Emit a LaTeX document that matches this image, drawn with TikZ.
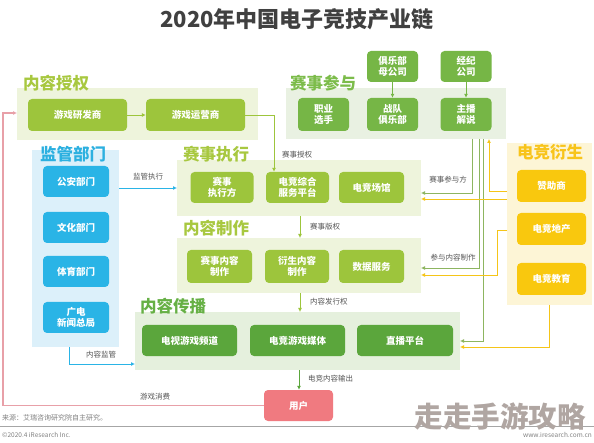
\documentclass[tikz,border=0pt]{standalone}
\usepackage{fontspec}
\setmainfont{Noto Sans CJK SC}
\usetikzlibrary{arrows.meta}
\definecolor{lime}{HTML}{9DC53C}
\definecolor{limepanel}{HTML}{EEF4DC}
\definecolor{limetitle}{HTML}{A8C840}
\definecolor{midgreen}{HTML}{76B646}
\definecolor{midpanel}{HTML}{E9F1E2}
\definecolor{midtitle}{HTML}{7CBC4A}
\definecolor{dkgreen}{HTML}{5BA63C}
\definecolor{dkpanel}{HTML}{E5F0DD}
\definecolor{dktitle}{HTML}{66B045}
\definecolor{bluebox}{HTML}{2AB4E6}
\definecolor{bluepanel}{HTML}{DCF0FA}
\definecolor{bluetitle}{HTML}{2CB0E0}
\definecolor{yelbox}{HTML}{F9C80E}
\definecolor{yelpanel}{HTML}{FDF5D6}
\definecolor{yeltitle}{HTML}{F8C41A}
\definecolor{userred}{HTML}{F07A80}
\definecolor{pinkline}{HTML}{E8A0A8}
\definecolor{olive}{HTML}{8DB560}
\definecolor{yline}{HTML}{F5C518}
\definecolor{titlegray}{HTML}{404040}
\definecolor{lblgray}{HTML}{555555}
\definecolor{wmcol}{HTML}{B0A6A2}
\begin{document}
\begin{tikzpicture}[x=1pt,y=-1pt,
  panel/.style={inner sep=0pt, outer sep=0pt},
  box/.style={rounded corners=4pt, text=white, align=center, inner sep=0pt,
    font=\bfseries\fontsize{9.5}{11.5}\selectfont},
  lbox/.style={box, fill=lime},
  mbox/.style={box, fill=midgreen},
  dbox/.style={box, fill=dkgreen},
  bbox/.style={box, fill=bluebox},
  ybox/.style={box, fill=yelbox},
  gtitle/.style={anchor=west, inner sep=0pt, font=\bfseries\fontsize{16.5}{18}\selectfont},
  lbl/.style={text=lblgray, inner sep=0pt, font=\fontsize{7.5}{9}\selectfont},
  conn/.style={line width=0.9pt, -{Latex[length=4pt,width=4pt]}},
]
\useasboundingbox[fill=white] (0,0) rectangle (594,443);

% title
\node[font=\bfseries\fontsize{22}{24}\selectfont, text=titlegray] (title) at (297,19) {2020年中国电子竞技产业链};

% panels
\node[panel, fill=limepanel, minimum width=241pt, minimum height=52pt] (pA) at (137.5,114) {};
\node[panel, fill=midpanel, minimum width=220pt, minimum height=51pt] (pC) at (396,113.5) {};
\node[panel, fill=limepanel, minimum width=244pt, minimum height=56pt] (pE) at (299,188) {};
\node[panel, fill=limepanel, minimum width=244pt, minimum height=55pt] (pM) at (299,265.5) {};
\node[panel, fill=dkpanel, minimum width=325pt, minimum height=58pt] (pS) at (297.5,341) {};
\node[panel, fill=bluepanel, minimum width=87pt, minimum height=197pt] (pJ) at (75.5,248.5) {};
\node[panel, fill=yelpanel, minimum width=85pt, minimum height=162pt] (pY) at (549.5,224) {};

% group titles
\node[gtitle, text=limetitle] (tA) at (23,83) {内容授权};
\node[gtitle, text=midtitle] (tC) at (290,83) {赛事参与};
\node[gtitle, text=limetitle] (tE) at (183,154) {赛事执行};
\node[gtitle, text=limetitle] (tM) at (183,228) {内容制作};
\node[gtitle, text=dktitle] (tS) at (140,306) {内容传播};
\node[gtitle, text=bluetitle] (tJ) at (40,154) {监管部门};
\node[gtitle, text=yeltitle] (tY) at (517,152) {电竞衍生};

% 内容授权
\node[lbox, minimum width=99pt, minimum height=32pt] (yf) at (77.5,115) {游戏研发商};
\node[lbox, minimum width=99pt, minimum height=32pt] (yy) at (195.5,115) {游戏运营商};

% 赛事参与
\node[mbox, minimum width=51pt, minimum height=33pt] (zy) at (323.5,114.5) {职业\\选手};
\node[mbox, minimum width=51pt, minimum height=33pt] (zd) at (392.5,114.5) {战队\\俱乐部};
\node[mbox, minimum width=51pt, minimum height=33pt] (zb) at (466,114.5) {主播\\解说};
\node[mbox, minimum width=51pt, minimum height=31pt] (mg) at (392.5,66.5) {俱乐部\\母公司};
\node[mbox, minimum width=51pt, minimum height=31pt] (jj) at (466,66.5) {经纪\\公司};

% 赛事执行
\node[lbox, minimum width=63pt, minimum height=31pt] (zxf) at (222,187.5) {赛事\\执行方};
\node[lbox, minimum width=63pt, minimum height=31pt] (zh) at (297.5,187.5) {电竞综合\\服务平台};
\node[lbox, minimum width=65pt, minimum height=31pt] (cg) at (371.5,187.5) {电竞场馆};

% 内容制作
\node[lbox, minimum width=65pt, minimum height=33pt] (nr) at (219.5,266.5) {赛事内容\\制作};
\node[lbox, minimum width=64pt, minimum height=33pt] (ys) at (297,266.5) {衍生内容\\制作};
\node[lbox, minimum width=65pt, minimum height=33pt] (sj) at (371.5,266.5) {数据服务};

% 内容传播
\node[dbox, minimum width=95pt, minimum height=31pt] (ds) at (189.5,340.5) {电视游戏频道};
\node[dbox, minimum width=95pt, minimum height=31pt] (mt) at (297.5,340.5) {电竞游戏媒体};
\node[dbox, minimum width=96pt, minimum height=31pt] (zbp) at (405,340.5) {直播平台};

% 用户
\node[box, fill=userred, minimum width=69pt, minimum height=31pt] (user) at (298.5,405.5) {用户};

% 监管部门
\node[bbox, minimum width=66pt, minimum height=31pt] (ga) at (76,181.5) {公安部门};
\node[bbox, minimum width=66pt, minimum height=31pt] (wh) at (76,227.5) {文化部门};
\node[bbox, minimum width=66pt, minimum height=31pt] (ty) at (76,271.5) {体育部门};
\node[bbox, minimum width=66pt, minimum height=31pt] (gd) at (76,317.5) {广电\\新闻总局};

% 电竞衍生
\node[ybox, minimum width=69pt, minimum height=32pt] (zz) at (551.5,186) {赞助商};
\node[ybox, minimum width=69pt, minimum height=32pt] (dc) at (551.5,229) {电竞地产};
\node[ybox, minimum width=69pt, minimum height=32pt] (jy) at (551.5,279) {电竞教育};

% connectors
\draw[conn, lime] (yf.east) -- (yy.west);
\draw[conn, lime] (yy.east) -- (274,115) -- (zh.north -| 274,0);
\node[lbl, anchor=west] at (282,155) {赛事授权};
\draw[conn, midgreen] (mg.south) -- (zd.north);
\draw[conn, midgreen] (jj.south) -- (zb.north);

\draw[conn, bluebox] (pJ.east |- 0,188) -- (pE.west |- 0,188);
\node[lbl] at (148,177) {监管执行};
\draw[conn, bluebox] (pJ.south -| 69,0) -- (69,364) -- (pS.west |- 0,364);
\node[lbl] at (101,355) {内容监管};

\draw[conn, lime] (pE.south -| 300,0) -- (pM.north -| 300,0);
\node[lbl, anchor=west] at (310,227) {赛事版权};
\draw[conn, lime] (pM.south -| 300,0) -- (pS.north -| 300,0);
\node[lbl, anchor=west] at (310,302) {内容发行权};
\draw[conn, dkgreen] (pS.south -| 299,0) -- (user.north -| 299,0);
\node[lbl, anchor=west] at (308,379) {电竞内容输出};

\draw[conn, pinkline, line width=1.1pt] (user.west) -- (3,405.5) -- (3,113) -- (pA.west |- 0,113);
\node[lbl] at (155,397) {游戏消费};

% right side connectors
\draw[conn, olive] (pC.south -| 472,0) -- (472,193) -- (pE.east |- 0,193);
\node[lbl] at (448,180) {赛事参与方};
\draw[conn, olive] (pC.south -| 479,0) -- (479,268) -- (pM.east |- 0,268);
\node[lbl] at (453,258) {参与内容制作};
\draw[conn, olive] (pC.south -| 483,0) -- (483,341) -- (pS.east |- 0,341);

\draw[conn, yline] (pY.west |- 0,199) -- (pE.east |- 0,199);
\draw[conn, yline] (pY.west |- 0,191) -- (489,191) -- (pC.south -| 489,0);
\draw[conn, yline] (pY.west |- 0,230) -- (497,230) -- (497,275) -- (pM.east |- 0,275);
\draw[conn, yline] (pY.south -| 549,0) -- (549,347) -- (pS.east |- 0,347);

% footer
\node[lbl, anchor=west, text=gray, font=\fontsize{7}{8}\selectfont] (src) at (2,418) {来源：艾瑞咨询研究院自主研究。};
\draw[gray!70, line width=0.6pt] (0,426) -- (594,426);
\node[lbl, anchor=west, text=gray, font=\fontsize{6.5}{8}\selectfont] (cp) at (2,435) {©2020.4 iResearch Inc.};
\node[lbl, anchor=east, text=gray, font=\fontsize{6.5}{8}\selectfont] (web) at (592,435) {www.iresearch.com.cn};
\node[text=wmcol, inner sep=0pt, font=\bfseries\fontsize{28.5}{30}\selectfont] (wm) at (500,416) {走走手游攻略};
\end{tikzpicture}
\end{document}
